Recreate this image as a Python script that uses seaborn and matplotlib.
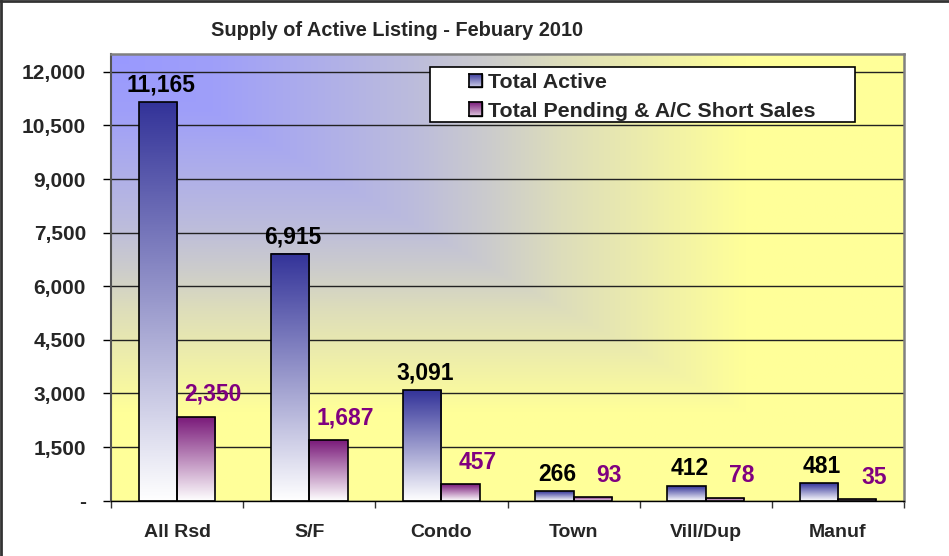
import numpy as np
import pandas as pd
import matplotlib
matplotlib.use('Agg')
import matplotlib.pyplot as plt
import seaborn as sns
from matplotlib.colors import LinearSegmentedColormap, to_rgb
from matplotlib.patches import Patch, Rectangle
from matplotlib.lines import Line2D

# values
categories = ['All Rsd', 'S/F', 'Condo', 'Town', 'Vill/Dup', 'Manuf']
total_active = [11165, 6915, 3091, 266, 412, 481]
total_pending = [2350, 1687, 457, 93, 78, 35]
series_names = ['Total Active', 'Total Pending & A/C Short Sales']
y_ticks = [0, 1500, 3000, 4500, 6000, 7500, 9000, 10500, 12000]
title = 'Supply of Active Listing - Febuary 2010'

df = pd.DataFrame({
    'category': categories * 2,
    'value': total_active + total_pending,
    'series': [series_names[0]] * len(categories) + [series_names[1]] * len(categories),
})

sns.set_style('white')
plt.rcParams['font.family'] = ['Liberation Sans', 'DejaVu Sans']
plt.rcParams['font.weight'] = 'bold'

BLUE = '#333399'
PURPLE = '#7a1a7a'
cmap_blue = LinearSegmentedColormap.from_list('bl', ['white', BLUE])
cmap_purple = LinearSegmentedColormap.from_list('pu', ['white', PURPLE])

fig = plt.figure(figsize=(9.49, 5.56), dpi=100)
ax = fig.add_axes([0.117, 0.0995, 0.8356, 0.8034])

sns.barplot(data=df, x='category', y='value', hue='series', order=categories,
            hue_order=series_names, width=0.58, palette=[BLUE, PURPLE],
            edgecolor='black', linewidth=1.2, errorbar=None, legend=False,
            ax=ax, zorder=3)

# plot area background: corner gradient blue -> yellow
W, H = 400, 300
xx, yy = np.meshgrid(np.linspace(0, 1, W), np.linspace(0, 1, H))
d = np.maximum(xx, 1 - yy)
t = np.interp(d, [0, 0.13, 0.38, 0.48, 0.57, 0.8, 1], [0, 0.06, 0.34, 0.5, 0.67, 1, 1])
c0 = np.array(to_rgb('#9999ff'))
c1 = np.array(to_rgb('#ffff99'))
bg = c0[None, None, :] * (1 - t[..., None]) + c1[None, None, :] * t[..., None]
ax.patch.set_visible(False)
ax.imshow(bg, extent=[0, 1, 0, 1], transform=ax.transAxes, origin='lower',
          aspect='auto', zorder=0)

# gradient fill for each bar
grad = np.linspace(0, 1, 256).reshape(-1, 1)
for container, cmap, vals in zip(ax.containers, [cmap_blue, cmap_purple],
                                 [total_active, total_pending]):
    for bar, v in zip(container, vals):
        x, w, h = bar.get_x(), bar.get_width(), bar.get_height()
        ax.imshow(grad, extent=[x, x + w, 0, h], origin='lower', cmap=cmap,
                  aspect='auto', zorder=2)
        bar.set_facecolor('none')

ax.set_xlim(-0.5, len(categories) - 0.5)
ax.set_ylim(0, 12500)

# data labels
for bar, v in zip(ax.containers[0], total_active):
    ax.annotate(f'{v:,}', (bar.get_x() + bar.get_width() / 2, bar.get_height()),
                xytext=(2, 4), textcoords='offset points', ha='center', va='bottom',
                fontsize=16.5, fontweight='bold', color='black', zorder=5)
for bar, v in zip(ax.containers[1], total_pending):
    ax.annotate(f'{v:,}', (bar.get_x() + bar.get_width() / 2, bar.get_height()),
                xytext=(12, 16), textcoords='offset points', ha='center', va='center',
                fontsize=16.5, fontweight='bold', color='#800080', zorder=5)

# axes styling
ax.set_yticks(y_ticks)
ax.set_yticklabels(['-' if v == 0 else f'{v:,}' for v in y_ticks],
                   fontsize=15, fontweight='bold')
ax.yaxis.grid(True, color='#222222', linewidth=1.0, zorder=1)
ax.set_axisbelow(True)
ax.tick_params(axis='y', which='major', left=True, length=6, width=1, color='black', pad=12)
ax.set_xticks(range(len(categories)))
ax.set_xticklabels(categories, fontsize=14, fontweight='bold')
ax.set_xticks(np.arange(-0.5, len(categories)), minor=True)
ax.tick_params(axis='x', which='major', bottom=False, length=0, pad=17)
ax.tick_params(axis='x', which='minor', bottom=True, length=5, width=1, color='#333333')
ax.set_xlabel('')
ax.set_ylabel('')
for side in ['top', 'right']:
    ax.spines[side].set_color('#808080')
    ax.spines[side].set_linewidth(1.8)
ax.spines['left'].set_color('#555555')
ax.spines['left'].set_linewidth(1.5)
ax.spines['bottom'].set_color('black')
ax.spines['bottom'].set_linewidth(1.0)
for s in ax.spines.values():
    s.set_zorder(6)

# legend box
ax.add_patch(Rectangle((0.402, 0.848), 0.536, 0.123, transform=ax.transAxes,
                       facecolor='white', edgecolor='black', linewidth=1.2, zorder=7))
handles = [Patch(facecolor='#9999cc', edgecolor='black'),
           Patch(facecolor='#c8a0c8', edgecolor='black')]
leg = ax.legend(handles, series_names, loc='upper left',
                bbox_to_anchor=(469 / 949, 1 - 73 / 556), bbox_transform=fig.transFigure,
                frameon=False, fontsize=15.4, handlelength=0.6, handleheight=0.6,
                handletextpad=0.3, labelspacing=0.45, borderpad=0, borderaxespad=0)
leg.set_zorder(8)
for txt in leg.get_texts():
    txt.set_fontweight('bold')

fig.text(397 / 949, 1 - 30 / 556, title, ha='center', va='center',
         fontsize=14.4, fontweight='bold')

# outer border
fig.add_artist(Line2D([0.0015, 0.0015], [0, 1], transform=fig.transFigure, color='#333333', lw=2))
fig.add_artist(Line2D([0, 1], [0.998, 0.998], transform=fig.transFigure, color='#333333', lw=2))

# gradient swatches in legend
fig.canvas.draw()
inv = fig.transFigure.inverted()
for h, cmap in zip(leg.legend_handles, [cmap_blue, cmap_purple]):
    bb = h.get_window_extent(fig.canvas.get_renderer()).transformed(inv)
    sax = fig.add_axes([bb.x0, bb.y0, bb.width, bb.height])
    sax.imshow(grad[64:], origin='lower', cmap=cmap, aspect='auto', vmin=0, vmax=1)
    sax.set_xticks([])
    sax.set_yticks([])
    for s in sax.spines.values():
        s.set_color('black')
        s.set_linewidth(1.2)

fig.savefig('out.png', dpi=100)
